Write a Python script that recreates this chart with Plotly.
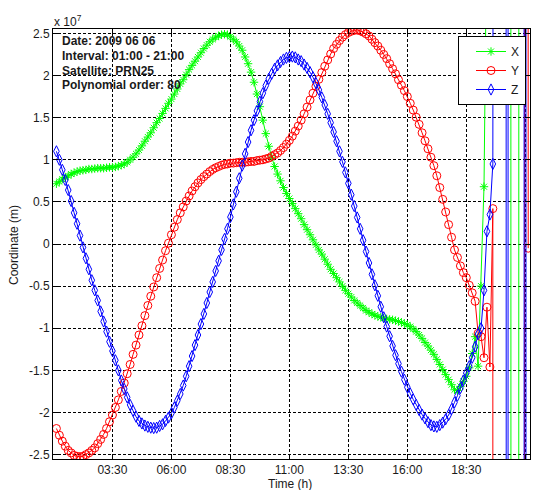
import plotly.graph_objects as go

# Sampling times in hours (every 7.5 minutes, 01:07:30 .. 21:07:30)
time_h = [1 + k / 8 for k in range(1, 162)]

# Coordinates in units of 1e7 m.
# Values far off-scale belong to the diverging tail of the polynomial fit.
x_coord = [
    0.715, 0.74, 0.77, 0.79, 0.81, 0.83, 0.845, 0.86,
    0.87, 0.875, 0.88, 0.89, 0.89, 0.895, 0.90, 0.90,
    0.90, 0.905, 0.91, 0.91, 0.915, 0.925, 0.935, 0.95,
    0.97, 1.00, 1.03, 1.07, 1.115, 1.165, 1.22, 1.27,
    1.32, 1.38, 1.44, 1.49, 1.55, 1.61, 1.67, 1.72,
    1.78, 1.84, 1.90, 1.95, 2.01, 2.07, 2.12, 2.17,
    2.22, 2.27, 2.32, 2.36, 2.40, 2.43, 2.455, 2.47,
    2.485, 2.49, 2.485, 2.46, 2.43, 2.40, 2.35, 2.30,
    2.22, 2.14, 2.04, 1.92, 1.78, 1.63, 1.47, 1.31,
    1.16, 1.03, 0.92, 0.83, 0.75, 0.67, 0.60, 0.54,
    0.48, 0.42, 0.36, 0.30, 0.23, 0.17, 0.11, 0.05,
    -0.01, -0.07, -0.12, -0.18, -0.24, -0.30, -0.35, -0.40,
    -0.45, -0.50, -0.55, -0.59, -0.63, -0.67, -0.70, -0.73,
    -0.76, -0.79, -0.81, -0.83, -0.845, -0.86, -0.87, -0.88,
    -0.89, -0.895, -0.90, -0.91, -0.92, -0.93, -0.945, -0.96,
    -0.98, -1.01, -1.04, -1.08, -1.12, -1.17, -1.21, -1.26,
    -1.31, -1.37, -1.43, -1.49, -1.55, -1.61, -1.67, -1.73,
    -1.74, -1.69, -1.63, -1.57, -1.47, -1.30, -1.10, -1.45,
    -0.50, 0.68, 4.0, 100, 100, 100, 100, 100,
    100, 100, 30, -220, -200, 31, 300, 300,
    300,
]

y_coord = [
    -2.19, -2.27, -2.34, -2.40, -2.45, -2.48, -2.51, -2.52,
    -2.525, -2.52, -2.50, -2.48, -2.45, -2.42, -2.37, -2.32,
    -2.26, -2.19, -2.11, -2.03, -1.94, -1.85, -1.75, -1.65,
    -1.54, -1.43, -1.31, -1.20, -1.08, -0.97, -0.85, -0.73,
    -0.62, -0.51, -0.40, -0.29, -0.19, -0.08, 0.01, 0.11,
    0.20, 0.29, 0.37, 0.44, 0.51, 0.57, 0.63, 0.68,
    0.725, 0.765, 0.80, 0.83, 0.86, 0.885, 0.905, 0.92,
    0.935, 0.945, 0.95, 0.96, 0.96, 0.965, 0.97, 0.97,
    0.97, 0.975, 0.98, 0.98, 0.99, 0.995, 1.00, 1.01,
    1.02, 1.04, 1.06, 1.08, 1.11, 1.145, 1.185, 1.23,
    1.28, 1.34, 1.40, 1.47, 1.545, 1.625, 1.71, 1.79,
    1.87, 1.955, 2.035, 2.11, 2.185, 2.255, 2.32, 2.37,
    2.415, 2.455, 2.485, 2.51, 2.525, 2.535, 2.54, 2.53,
    2.515, 2.495, 2.47, 2.43, 2.39, 2.35, 2.30, 2.25,
    2.20, 2.14, 2.08, 2.02, 1.95, 1.885, 1.82, 1.75,
    1.67, 1.59, 1.505, 1.42, 1.32, 1.225, 1.13, 1.03,
    0.93, 0.81, 0.67, 0.53, 0.38, 0.23, 0.08, -0.07,
    -0.16, -0.26, -0.34, -0.40, -0.49, -0.58, -0.68, -1.06,
    -1.10, -1.35, -0.75, -1.46, 0.42, -500, -500, -500,
    -500, -500, -500, -500, -500, -500, -300, 95,
    -0.05,
]

z_coord = [
    1.10, 1.00, 0.88, 0.76, 0.64, 0.51, 0.37, 0.24,
    0.10, -0.04, -0.17, -0.30, -0.43, -0.55, -0.67, -0.80,
    -0.92, -1.04, -1.16, -1.27, -1.38, -1.50, -1.62, -1.72,
    -1.82, -1.91, -1.98, -2.05, -2.10, -2.13, -2.155, -2.17,
    -2.18, -2.185, -2.18, -2.16, -2.14, -2.10, -2.06, -2.01,
    -1.94, -1.86, -1.78, -1.68, -1.57, -1.45, -1.33, -1.20,
    -1.08, -0.95, -0.83, -0.70, -0.57, -0.45, -0.32, -0.20,
    -0.07, 0.06, 0.18, 0.32, 0.47, 0.62, 0.78, 0.93,
    1.07, 1.21, 1.35, 1.47, 1.58, 1.69, 1.79, 1.88,
    1.96, 2.02, 2.08, 2.12, 2.16, 2.19, 2.21, 2.22,
    2.225, 2.215, 2.19, 2.17, 2.13, 2.09, 2.04, 1.98,
    1.91, 1.83, 1.74, 1.65, 1.545, 1.44, 1.33, 1.22,
    1.10, 0.975, 0.85, 0.72, 0.585, 0.45, 0.315, 0.18,
    0.045, -0.09, -0.225, -0.36, -0.49, -0.615, -0.745, -0.87,
    -0.98, -1.095, -1.21, -1.32, -1.42, -1.515, -1.61, -1.70,
    -1.775, -1.845, -1.91, -1.97, -2.025, -2.07, -2.115, -2.15,
    -2.165, -2.17, -2.15, -2.12, -2.08, -2.03, -1.96, -1.88,
    -1.80, -1.71, -1.62, -1.53, -1.45, -1.35, -1.22, -1.07,
    -1.00, -0.55, 0.15, 0.35, 0.95, 4.0, 100, 100,
    100, -92, 480, 300, 300, 300, 300, -200,
    630,
]

x_tick_vals = [3.5, 6, 8.5, 11, 13.5, 16, 18.5, 21]
x_tick_text = ["03:30", "06:00", "08:30", "11:00", "13:30", "16:00", "18:30", "21:00"]
y_tick_vals = [-2.5, -2, -1.5, -1, -0.5, 0, 0.5, 1, 1.5, 2, 2.5]
y_tick_text = ["-2.5", "-2", "-1.5", "-1", "-0.5", "0", "0.5", "1", "1.5", "2", "2.5"]
info_lines = ["Date: 2009 06 06", "Interval: 01:00 - 21:00",
              "Satellite: PRN25", "Polynomial order: 80"]

FONT = "Liberation Sans, Arial, Helvetica, sans-serif"
TXT = "#1a1a1a"
W, H = 539, 490
L, R, T, B = 53, 9, 29, 31
PW, PH = W - L - R, H - T - B


def px_x(x):
    return (x - L) / PW


def px_y(y):
    return (H - B - y) / PH


fig = go.Figure()
fig.add_trace(go.Scatter(
    x=time_h, y=x_coord, mode="lines+markers", name="X",
    line=dict(color="#00ff00", width=1),
    marker=dict(symbol="asterisk-open", size=7, color="#00ff00",
                line=dict(color="#00ff00", width=1))))
fig.add_trace(go.Scatter(
    x=time_h, y=y_coord, mode="lines+markers", name="Y",
    line=dict(color="#ff0000", width=1),
    marker=dict(symbol="circle-open", size=8, color="#ff0000",
                line=dict(color="#ff0000", width=1))))
fig.add_trace(go.Scatter(
    x=time_h, y=z_coord, mode="lines+markers", name="Z",
    line=dict(color="#0000ff", width=1),
    marker=dict(symbol="diamond-tall-open", size=8, color="#0000ff",
                line=dict(color="#0000ff", width=1))))

axis_common = dict(
    showline=True, linecolor="black", linewidth=1, mirror="ticks",
    ticks="inside", ticklen=5, tickcolor="black", tickwidth=1,
    showgrid=True, gridcolor="black", gridwidth=1, griddash="3px,2px",
    zeroline=False, tickfont=dict(family=FONT, size=12, color=TXT),
)
fig.update_xaxes(range=[0.98, 21.2], tickmode="array", tickvals=x_tick_vals,
                 ticktext=x_tick_text, **axis_common)
fig.update_yaxes(range=[-2.552, 2.552], tickmode="array", tickvals=y_tick_vals,
                 ticktext=y_tick_text, **axis_common)

annotations = [dict(text="x 10<sup>7</sup>", xref="paper", yref="paper",
                    x=px_x(52), y=px_y(31), xanchor="left", yanchor="bottom",
                    showarrow=False, font=dict(family=FONT, size=12, color=TXT))]
for i, line in enumerate(info_lines):
    annotations.append(dict(text="<b>%s</b>" % line, xref="paper", yref="paper",
                            x=px_x(60), y=px_y(41 + 14.8 * i), xanchor="left",
                            yanchor="middle", showarrow=False,
                            font=dict(family=FONT, size=12, color=TXT)))
annotations.append(dict(text="Time (h)", xref="paper", yref="paper",
                        x=px_x(290), y=px_y(484), xanchor="center", yanchor="middle",
                        showarrow=False, font=dict(family=FONT, size=12, color=TXT)))
annotations.append(dict(text="Coordinate (m)", xref="paper", yref="paper",
                        x=px_x(14), y=px_y(245), xanchor="center", yanchor="middle",
                        textangle=-90, showarrow=False,
                        font=dict(family=FONT, size=12, color=TXT)))

fig.update_layout(
    width=W, height=H, autosize=False,
    margin=dict(l=L, r=R, t=T, b=B, pad=0),
    paper_bgcolor="white", plot_bgcolor="white",
    font=dict(family=FONT, size=12, color=TXT),
    showlegend=True,
    legend=dict(x=px_x(526), y=px_y(36), xanchor="right", yanchor="top",
                bgcolor="white", bordercolor="black", borderwidth=1,
                font=dict(family=FONT, size=12, color=TXT),
                itemwidth=30, indentation=12, tracegroupgap=0),
    annotations=annotations,
)

fig.write_html(
    "out.html",
    config={"displayModeBar": False},
    post_script="document.body.style.margin='0px';document.body.style.padding='0px';",
)
